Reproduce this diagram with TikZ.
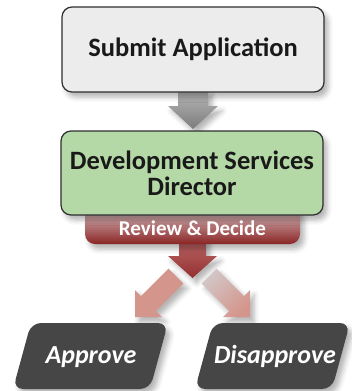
\documentclass[tikz,border=0pt]{standalone}
\usepackage{fontspec}
\setmainfont{Carlito}
\usetikzlibrary{shadows.blur,calc}
\definecolor{bordergray}{HTML}{2E2E2E}
\definecolor{subfill}{HTML}{ECECEC}
\definecolor{greenfill}{HTML}{B5D8A7}
\definecolor{darkbox}{HTML}{464646}
\definecolor{salmon}{HTML}{D4968C}
\definecolor{paleside}{HTML}{D2C6C6}
\definecolor{tabtop}{HTML}{E2D2D4}
\definecolor{tabmid}{HTML}{A84848}
\definecolor{tabbot}{HTML}{8A2424}
\definecolor{redtop}{HTML}{C06A6A}
\definecolor{redbot}{HTML}{922E2E}
\definecolor{graytop}{HTML}{B8B8B8}
\definecolor{graybot}{HTML}{7C7C7C}
\tikzset{
  softshadow/.style={blur shadow={shadow xshift=4pt, shadow yshift=-5pt, shadow blur radius=5pt, shadow opacity=30}},
  mainbox/.style={draw=bordergray, line width=1.2pt, rounded corners=10pt, minimum width=262pt, align=center, text=black!90, softshadow},
  bigtext/.style={font=\fontsize{26.5}{26}\selectfont\bfseries},
  choicetext/.style={font=\fontsize{26}{26}\selectfont\bfseries\itshape, text=white, anchor=base},
}
\begin{document}
\begin{tikzpicture}[x=1pt,y=-1pt]
\useasboundingbox (0,0) rectangle (351,391);

% gray arrow
\coordinate (ga) at (193,90);
\shade[top color=graytop, bottom color=graybot, softshadow]
  ($(ga)+(-15,0)$) -- ($(ga)+(-15,16)$) -- ($(ga)+(-25,16)$) -- ($(ga)+(0,39)$)
  -- ($(ga)+(25,16)$) -- ($(ga)+(15,16)$) -- ($(ga)+(15,0)$) -- cycle;

% submit box
\node[mainbox, bigtext, fill=subfill, minimum height=85pt] (submit) at (193,49.5) {Submit Application};

% red down arrow
\coordinate (ra) at (192.5,238);
\shade[top color=redtop, bottom color=redbot, softshadow]
  ($(ra)+(-13.5,0)$) -- ($(ra)+(-13.5,18)$) -- ($(ra)+(-24.5,18)$) -- ($(ra)+(0,40)$)
  -- ($(ra)+(24.5,18)$) -- ($(ra)+(13.5,18)$) -- ($(ra)+(13.5,0)$) -- cycle;

% review tab
\shade[top color=tabtop, middle color=tabmid, bottom color=tabbot, rounded corners=10pt, softshadow]
  (85,205) rectangle (300,244);

% director box
\node[mainbox, bigtext, fill=greenfill, minimum height=84pt] (director) at (192,173)
  {Development Services\\Director};
\node[font=\fontsize{21}{22}\selectfont\bfseries, text=white, anchor=base] (review) at (192.5,235.5) {Review \& Decide};

% diagonal arrows
\fill[salmon, softshadow]
  (168.6,268.6) -- (141.1,296.1) -- (135,290) -- (135,317) -- (162,317) -- (155.9,310.9) -- (183.4,283.4) -- cycle;
\shade[left color=paleside, right color=salmon, shading angle=45, softshadow]
  (216.4,268.6) -- (243.9,296.1) -- (250,290) -- (250,317) -- (223,317) -- (229.1,310.9) -- (201.6,283.4) -- cycle;

% bottom boxes
\fill[darkbox, rounded corners=10pt, softshadow] (13,389) -- (31,323) -- (168,323) -- (150,389) -- cycle;
\fill[darkbox, rounded corners=10pt, softshadow] (195,389) -- (213,323) -- (350,323) -- (332,389) -- cycle;
\node[choicetext] (approve) at (91,363) {Approve};
\node[choicetext] (disapprove) at (275,363) {Disapprove};
\end{tikzpicture}
\end{document}
